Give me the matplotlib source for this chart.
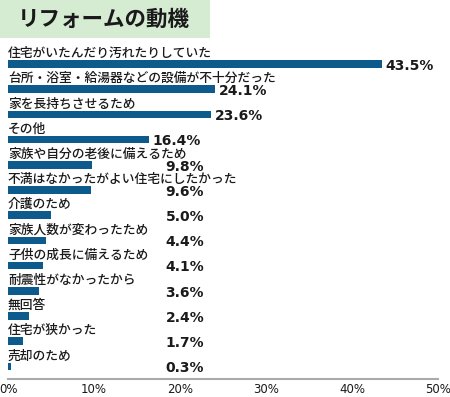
import matplotlib

matplotlib.use("Agg")
import matplotlib.pyplot as plt
from matplotlib.patches import Rectangle

plt.rcParams["font.family"] = ["Noto Sans CJK JP", "DejaVu Sans"]

# Data
reasons = [
    "住宅がいたんだり汚れたりしていた",
    "台所・浴室・給湯器などの設備が不十分だった",
    "家を長持ちさせるため",
    "その他",
    "家族や自分の老後に備えるため",
    "不満はなかったがよい住宅にしたかった",
    "介護のため",
    "家族人数が変わったため",
    "子供の成長に備えるため",
    "耐震性がなかったから",
    "無回答",
    "住宅が狭かった",
    "売却のため",
]
values = [43.5, 24.1, 23.6, 16.4, 9.8, 9.6, 5.0, 4.4, 4.1, 3.6, 2.4, 1.7, 0.3]
ticks = [0, 10, 20, 30, 40, 50]

W, H = 450, 397
fig = plt.figure(figsize=(W / 100, H / 100), dpi=100)

# Title box
fig.patches.append(Rectangle((0, 1 - 38 / H), 210 / W, 38 / H, transform=fig.transFigure,
                             facecolor="#d5ebd2", edgecolor="none", zorder=0))
fig.text(18 / W, 1 - 19 / H, "リフォームの動機", fontsize=15.5, fontweight="bold",
         va="center", ha="left", color="#1a1a1a")

left, right = 8 / W, 438 / W
bottom, top = 1 - 379 / H, 1 - 40 / H
ax = fig.add_axes([left, bottom, right - left, top - bottom])
ax.set_facecolor("none")

ypos = list(range(len(values)))
ax.barh(ypos, values, height=0.3, color="#0d5b8d")

for i, (name, v) in enumerate(zip(reasons, values)):
    ax.text(0, i - 0.28, name, fontsize=9.2, fontweight="medium", va="baseline",
            ha="left", color="#1a1a1a")
    lx = v + 0.4 if v > 15 else 18.3
    ax.text(lx, i + 0.07, f"{v:.1f}%", fontsize=10, fontweight="bold",
            family="DejaVu Sans", va="center", ha="left", color="#1a1a1a")

ax.set_xlim(0, 50)
ax.set_ylim(12.5, -0.95)
ax.set_xticks(ticks)
ax.set_xticklabels([f"{t}%" for t in ticks], fontsize=8.5, family="DejaVu Sans", color="#1a1a1a")
ax.set_yticks([])
for s in ["top", "right", "left"]:
    ax.spines[s].set_visible(False)
ax.spines["bottom"].set_color("#aaaaaa")
ax.spines["bottom"].set_linewidth(1.5)
ax.tick_params(axis="x", length=0, pad=3)

fig.savefig("out.png", dpi=100)
plt.close(fig)
